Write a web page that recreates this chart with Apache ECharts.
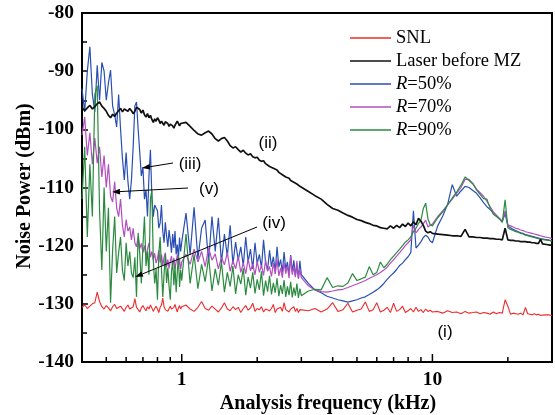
<!DOCTYPE html>
<html><head><meta charset="utf-8">
<script src="https://cdn.jsdelivr.net/npm/echarts@6/dist/echarts.min.js"></script>
<style>html,body{margin:0;padding:0;background:#fff}#c{width:555px;height:415px}</style>
</head><body><div id="c"></div>
<script>
// Analysis frequency (kHz)
const freq = [
 0.40,0.41,0.42,0.43,0.44,0.45,0.46,0.47,0.48,0.49,
 0.50,0.51,0.52,0.53,0.54,0.55,0.56,0.57,0.58,0.59,
 0.60,0.61,0.62,0.63,0.64,0.65,0.66,0.67,0.68,0.69,
 0.70,0.71,0.72,0.73,0.74,0.75,0.76,0.77,0.78,0.79,
 0.80,0.81,0.82,0.83,0.84,0.85,0.86,0.87,0.88,0.89,
 0.90,0.91,0.92,0.93,0.94,0.95,0.96,0.97,0.98,0.99,
 1.00,
 1.04,1.08,1.12,1.16,1.20,1.24,1.28,1.32,1.36,1.40,
 1.44,1.48,1.52,1.56,1.60,1.64,1.68,1.72,1.76,1.80,
 1.84,1.88,1.92,1.96,2.00,2.04,2.08,2.12,2.16,2.20,
 2.24,2.28,2.32,2.36,2.40,2.44,2.48,2.52,2.56,2.60,
 2.64,2.68,2.72,2.76,2.80,2.84,2.88,2.92,2.96,3.00,
 3.2,3.4,3.6,3.8,4.0,4.2,4.4,4.6,4.8,5.0,
 5.2,5.4,5.6,5.8,6.0,6.2,6.4,6.6,6.8,7.0,
 7.2,7.4,7.6,7.8,8.0,8.2,8.4,8.6,8.8,9.0,
 9.2,9.4,9.6,9.8,10.0,
 10.5,11,11.5,12,12.5,13,13.5,14,14.5,15,
 15.5,16,16.5,17,17.5,18,18.5,19,19.5,20,
 20.5,21,21.5,22,22.5,23,23.5,24,24.5,25,
 25.5,26,26.5,27,27.5,28,28.5,29,29.5,30
];
// SNL (dBm)
const snl = [
 -130.6,-130.2,-130.8,-130.4,-130.0,-129.8,-128.0,-129.6,-130.5,-130.9,
 -130.3,-130.7,-131.2,-130.5,-130.1,-130.8,-131.0,-130.4,-130.7,-131.3,
 -130.6,-130.2,-130.9,-131.1,-130.5,-129.1,-130.6,-130.9,-131.4,-130.7,
 -130.3,-130.8,-131.2,-130.5,-130.9,-130.2,-130.7,-131.3,-130.8,-130.4,
 -130.9,-131.5,-130.6,-130.2,-129.0,-130.5,-131.0,-130.7,-131.3,-130.8,
 -130.4,-130.9,-131.2,-130.6,-130.1,-130.8,-131.4,-130.7,-130.3,-130.9,
 -130.5,
 -130.2,-130.9,-131.3,-130.6,-129.6,-130.8,-131.1,-130.4,-130.9,-131.4,
 -130.7,-129.8,-130.9,-131.2,-130.5,-131.0,-130.6,-131.5,-130.8,-130.3,
 -131.1,-130.7,-129.9,-131.3,-130.8,-131.0,-130.5,-131.4,-130.9,-130.6,
 -131.2,-130.8,-130.1,-131.5,-130.9,-131.1,-130.6,-131.3,-129.8,-131.0,
 -130.7,-131.4,-130.9,-131.2,-130.5,-131.3,-130.8,-131.5,-131.0,-130.7,
 -131.2,-130.8,-131.4,-130.9,-129.8,-131.3,-131.0,-129.9,-131.4,-131.1,
 -130.9,-129.7,-131.3,-131.0,-129.8,-131.4,-131.1,-130.6,-131.5,-129.9,
 -131.3,-131.0,-130.4,-131.5,-131.2,-130.8,-131.4,-130.6,-131.3,-131.0,
 -131.5,-130.9,-131.3,-131.1,-131.4,
 -131.3,-131.6,-131.2,-131.5,-131.4,-131.7,-131.3,-131.6,-131.5,-131.4,
 -131.7,-131.5,-131.6,-131.8,-131.4,-131.7,-131.5,-131.6,-129.3,-130.4,
 -131.8,-131.6,-131.7,-131.8,-131.6,-131.9,-130.6,-131.7,-131.8,-131.9,
 -131.7,-131.9,-131.8,-132.0,-131.8,-131.9,-132.0,-131.9,-132.0,-132.0
];
// Laser before MZ (dBm)
const laser = [
 -96.2,-96.8,-96.3,-95.9,-96.5,-96.1,-95.6,-95.3,-96.0,-96.4,
 -96.9,-97.6,-98.0,-97.4,-97.8,-97.2,-96.8,-96.4,-97.0,-96.5,
 -96.2,-96.9,-96.4,-96.8,-97.3,-96.9,-96.2,-95.9,-96.6,-97.2,
 -96.7,-97.5,-97.9,-97.3,-98.0,-97.6,-98.3,-98.8,-98.2,-98.6,
 -98.0,-98.4,-99.0,-98.6,-98.9,-99.3,-98.7,-98.4,-99.0,-99.5,
 -99.1,-98.8,-99.4,-99.8,-99.3,-99.0,-98.6,-98.9,-99.4,-99.0,
 -99.3,
 -98.8,-99.5,-100.2,-100.8,-101.0,-100.6,-100.3,-100.8,-101.6,-102.0,
 -101.6,-101.4,-102.0,-102.8,-103.2,-103.0,-103.5,-103.9,-103.6,-104.1,
 -104.4,-104.2,-104.7,-104.9,-104.8,-105.3,-105.5,-105.4,-105.9,-106.0,
 -106.4,-106.3,-106.7,-107.0,-107.0,-107.4,-107.5,-107.8,-107.9,-108.2,
 -108.3,-108.4,-108.8,-108.9,-109.1,-109.3,-109.4,-109.7,-109.8,-110.0,
 -110.7,-111.4,-112.0,-112.9,-113.6,-113.9,-114.4,-114.8,-115.1,-115.5,
 -115.7,-116.0,-116.2,-116.5,-116.6,-116.9,-117.0,-117.1,-116.6,-117.0,
 -116.5,-116.9,-116.3,-116.7,-116.1,-116.6,-115.9,-116.4,-115.3,-115.8,
 -116.5,-117.5,-117.8,-117.6,-117.9,
 -118.0,-118.1,-118.2,-118.3,-118.3,-118.4,-117.2,-118.5,-118.5,-118.6,
 -118.6,-118.7,-118.7,-118.8,-118.8,-118.9,-118.9,-119.0,-117.0,-119.0,
 -119.1,-119.1,-119.2,-119.2,-119.3,-119.3,-119.3,-119.4,-119.4,-119.5,
 -119.5,-119.6,-119.6,-118.9,-119.7,-119.7,-119.8,-119.8,-119.9,-119.9
];
// R=50% (dBm)
const r50 = [
 -93.0,-97.0,-90.0,-85.8,-94.0,-97.0,-89.0,-95.0,-88.5,-90.0,
 -95.0,-92.0,-89.8,-96.0,-97.5,-99.6,-94.0,-100.0,-105.0,-108.7,
 -104.0,-109.0,-112.0,-108.7,-103.0,-96.0,-95.3,-100.0,-104.0,-108.0,
 -106.5,-112.0,-110.4,-115.0,-108.0,-103.5,-111.6,-115.0,-113.0,-112.7,
 -114.0,-117.0,-116.1,-113.0,-117.5,-119.5,-116.0,-118.3,-120.2,-117.3,
 -119.0,-121.2,-118.0,-120.4,-117.5,-121.5,-119.8,-122.3,-118.6,-121.0,
 -119.4,
 -114.4,-121.5,-113.4,-122.3,-117.0,-115.6,-122.8,-115.0,-121.0,-115.2,
 -123.0,-118.0,-121.8,-116.5,-123.2,-119.4,-122.5,-120.2,-123.5,-118.5,
 -122.8,-120.6,-124.0,-119.5,-123.1,-121.5,-123.8,-119.0,-122.9,-124.2,
 -120.8,-123.6,-121.9,-124.4,-120.2,-123.7,-122.4,-124.6,-121.1,-124.1,
 -122.8,-125.0,-121.6,-124.5,-122.5,-125.2,-123.3,-125.6,-122.6,-125.0,
 -126.5,-127.6,-128.1,-128.7,-129.0,-129.3,-129.5,-129.7,-129.5,-129.3,
 -129.0,-128.8,-128.4,-128.0,-127.6,-127.1,-126.5,-125.8,-125.2,-124.7,
 -124.1,-123.4,-123.0,-122.4,-121.9,-121.2,-114.0,-120.4,-119.9,-119.3,
 -118.6,-118.2,-118.5,-119.2,-119.5,
 -116.6,-114.9,-112.9,-109.5,-111.5,-110.6,-109.8,-110.0,-110.5,-111.0,
 -111.8,-112.6,-113.3,-113.8,-114.3,-114.8,-115.3,-115.8,-114.5,-116.6,
 -116.9,-117.2,-117.4,-117.6,-117.8,-117.9,-118.1,-118.2,-118.3,-118.4,
 -118.5,-118.6,-118.7,-118.8,-118.8,-118.9,-119.0,-119.0,-119.1,-119.2
];
// R=70% (dBm)
const r70 = [
 -101.0,-97.9,-104.5,-100.6,-106.0,-101.5,-105.8,-103.0,-108.2,-104.5,
 -110.0,-106.0,-111.5,-112.5,-109.0,-113.5,-115.0,-112.0,-116.5,-118.5,
 -115.5,-117.5,-116.8,-119.0,-117.0,-119.5,-120.2,-118.4,-120.5,-119.6,
 -121.2,-120.0,-121.9,-120.7,-119.5,-122.0,-121.0,-122.5,-121.3,-123.0,
 -122.2,-120.8,-122.9,-121.5,-123.4,-122.0,-121.2,-123.7,-122.4,-123.9,
 -122.6,-121.8,-123.5,-122.1,-124.0,-122.7,-121.6,-123.6,-122.3,-124.1,
 -122.8,
 -121.5,-123.2,-120.6,-122.8,-121.0,-123.6,-120.4,-122.5,-121.4,-124.0,
 -122.0,-123.3,-121.2,-124.4,-122.6,-124.0,-121.8,-124.6,-123.0,-124.8,
 -122.3,-124.3,-123.2,-125.0,-122.7,-124.6,-123.4,-125.1,-122.5,-124.4,
 -123.6,-125.3,-123.0,-124.9,-122.4,-125.2,-123.8,-125.5,-122.9,-124.8,
 -123.5,-125.6,-121.8,-125.0,-123.7,-125.4,-122.6,-125.7,-124.1,-125.5,
 -126.9,-127.6,-127.9,-128.0,-127.8,-127.6,-127.5,-127.2,-126.9,-126.6,
 -126.3,-126.0,-125.6,-125.3,-125.0,-124.6,-124.2,-123.7,-123.0,-122.4,
 -121.8,-121.2,-120.6,-120.0,-119.5,-119.0,-116.5,-117.8,-117.2,-116.8,
 -116.2,-115.6,-116.8,-116.5,-116.3,
 -115.0,-114.0,-113.0,-112.0,-111.0,-110.0,-108.6,-108.6,-109.3,-110.3,
 -110.9,-111.5,-112.4,-113.3,-114.2,-114.8,-115.3,-115.9,-114.0,-116.4,
 -116.6,-116.8,-117.0,-117.1,-117.3,-117.4,-117.6,-117.7,-117.8,-117.9,
 -118.0,-118.1,-118.2,-118.3,-118.4,-118.5,-118.6,-118.6,-118.7,-118.8
];
// R=90% (dBm)
const r90 = [
 -112.0,-103.0,-118.5,-106.0,-115.0,-94.0,-92.5,-113.9,-124.2,-110.0,
 -121.0,-113.5,-129.8,-120.7,-115.0,-124.7,-121.2,-118.5,-124.2,-126.0,
 -119.5,-123.5,-121.0,-124.7,-125.5,-122.0,-128.8,-117.8,-121.5,-126.5,
 -120.0,-115.0,-123.5,-121.0,-125.0,-112.0,-110.5,-122.5,-126.5,-124.0,
 -129.3,-121.5,-118.5,-124.0,-128.8,-125.0,-121.5,-126.4,-123.8,-127.0,
 -129.3,-124.5,-122.6,-126.8,-123.4,-128.0,-124.6,-121.8,-127.1,-124.2,
 -126.0,
 -118.0,-126.5,-121.5,-127.4,-123.2,-126.2,-122.0,-127.8,-124.0,-126.8,
 -122.8,-128.0,-124.6,-127.0,-123.5,-128.3,-125.0,-126.6,-123.9,-128.5,
 -125.4,-127.3,-124.6,-128.2,-125.8,-127.6,-124.4,-128.6,-126.0,-127.9,
 -125.2,-128.4,-126.4,-128.1,-125.6,-128.7,-126.8,-128.3,-125.9,-128.8,
 -127.0,-128.5,-126.2,-128.9,-127.2,-128.6,-126.5,-129.0,-127.4,-128.6,
 -127.8,-127.5,-127.6,-125.5,-127.2,-126.9,-127.0,-126.4,-124.8,-126.0,
 -125.7,-125.4,-123.6,-125.0,-124.6,-122.8,-123.8,-123.2,-122.4,-121.8,
 -121.2,-120.6,-120.0,-119.4,-119.0,-118.5,-117.6,-117.0,-116.2,-115.6,
 -113.6,-112.7,-115.4,-116.4,-116.6,
 -115.2,-114.2,-113.0,-111.8,-110.8,-109.6,-108.2,-108.8,-109.4,-110.4,
 -111.2,-111.9,-112.0,-113.6,-114.6,-115.0,-115.4,-116.0,-112.1,-116.9,
 -117.2,-117.4,-117.6,-117.7,-117.9,-118.0,-118.2,-118.3,-118.4,-118.5,
 -118.6,-118.7,-118.8,-118.9,-118.9,-119.0,-119.1,-119.1,-119.2,-119.2
];
const seriesNames = ['SNL', 'Laser before MZ', 'R=50%', 'R=70%', 'R=90%'];
const xMajorTicks = [1, 10];
const xMinorTicks = [0.5, 0.6, 0.7, 0.8, 0.9, 2, 3, 4, 5, 6, 7, 8, 9, 20, 30];

const colors = { 'SNL': '#ee2a2a', 'Laser before MZ': '#111111', 'R=50%': '#2a4fb3', 'R=70%': '#b24fc0', 'R=90%': '#2b8a3f' };

function pairs(arr) { const out = []; for (let i = 0; i < freq.length && i < arr.length; i++) out.push([freq[i], arr[i]]); return out; }
function lineSeries(name, arr, w) {
  return { name, type: 'line', data: pairs(arr), showSymbol: false, symbol: 'none', sampling: false,
    lineStyle: { color: colors[name], width: w }, itemStyle: { color: colors[name] }, animation: false, silent: true };
}
const bad = [snl, laser, r50, r70, r90].map(a => a.length).filter(n => n !== freq.length);

function arrow(x1, y1, x2, y2) {
  const dx = x2 - x1, dy = y2 - y1, L = Math.hypot(dx, dy), ux = dx / L, uy = dy / L;
  const hl = 8, hw = 2.8, bx = x2 - ux * hl, by = y2 - uy * hl;
  return [
    { type: 'line', z: 100, shape: { x1, y1, x2: bx, y2: by }, style: { stroke: '#000', lineWidth: 1 } },
    { type: 'polygon', z: 100, shape: { points: [[x2, y2], [bx - uy * hw, by + ux * hw], [bx + uy * hw, by - ux * hw]] }, style: { fill: '#000' } }
  ];
}
function label(t, x, y) {
  return { type: 'text', z: 100, x, y, style: { text: t, font: '17px "Liberation Sans"', fill: '#000', textAlign: 'center', textVerticalAlign: 'middle' } };
}

const chart = echarts.init(document.getElementById('c'), null, { renderer: 'canvas' });
const serif = '"Liberation Serif", "Times New Roman", serif';
chart.setOption({
  animation: false,
  backgroundColor: '#fff',
  grid: { left: 82, top: 13, right: 2, bottom: 53, show: true, borderColor: '#000', borderWidth: 2 },
  legend: {
    orient: 'vertical', left: 350, top: 28, padding: 0, itemWidth: 41, itemHeight: 1.5, itemGap: 3, icon: 'rect',
    selectedMode: false, data: seriesNames,
    formatter: n => n.startsWith('R=') ? '{i|R}' + n.slice(1) : n,
    textStyle: { fontFamily: serif, fontSize: 18.5, color: '#000', lineHeight: 20,
      rich: { i: { fontFamily: serif, fontStyle: 'italic', fontSize: 18.5, lineHeight: 20, color: '#000' } } }
  },
  xAxis: {
    type: 'log', logBase: 10, min: 0.4, max: 30,
    axisLine: { show: true, lineStyle: { color: '#000', width: 2 } },
    axisTick: { show: false }, splitLine: { show: false },
    axisLabel: { color: '#000', fontFamily: serif, fontWeight: 'bold', fontSize: 19.5, margin: 8,
      formatter: v => Math.abs(v - 1) < 1e-6 ? '1' : (Math.abs(v - 10) < 1e-6 ? '10' : '') }
  },
  yAxis: {
    type: 'value', min: -140, max: -80, interval: 10,
    axisLine: { show: true, lineStyle: { color: '#000', width: 2 } },
    axisTick: { show: true, inside: true, length: 6, lineStyle: { color: '#000', width: 1.5 } },
    minorTick: { show: true, splitNumber: 2, length: 5, lineStyle: { color: '#000', width: 1.5 } },
    splitLine: { show: false }, minorSplitLine: { show: false },
    axisLabel: { color: '#000', fontFamily: serif, fontWeight: 'bold', fontSize: 19.5, margin: 8 }
  },
  series: [
    lineSeries('R=50%', r50, 1.2),
    lineSeries('R=70%', r70, 1.2),
    lineSeries('R=90%', r90, 1.2),
    lineSeries('SNL', snl, 1.1),
    lineSeries('Laser before MZ', laser, 1.7),
    {
      type: 'custom', silent: true, animation: false, z: 10, clip: false,
      data: xMajorTicks.map(f => [f, 1]).concat(xMinorTicks.map(f => [f, 0])),
      renderItem: (params, api) => {
        const p = api.coord([api.value(0), -140]);
        const len = api.value(1) ? 8 : 5;
        return { type: 'line', shape: { x1: p[0], y1: p[1], x2: p[0], y2: p[1] - len }, style: { stroke: '#000', lineWidth: 1.5 } };
      }
    }
  ],
  graphic: [
    { type: 'text', z: 100, x: 25, y: 186, rotation: Math.PI / 2,
      style: { text: 'Noise Power (dBm)', font: 'bold 20px ' + serif, fill: '#000', textAlign: 'center', textVerticalAlign: 'middle' } },
    { type: 'text', z: 100, x: 328, y: 404,
      style: { text: 'Analysis frequency (kHz)', font: 'bold 20px ' + serif, fill: '#000', textAlign: 'center', textVerticalAlign: 'middle' } },
    label('(ii)', 268, 143),
    label('(iii)', 190, 164),
    label('(v)', 209, 189),
    label('(iv)', 274, 223),
    label('(i)', 445, 332),
    ...arrow(173, 163, 142, 168),
    ...arrow(188, 188, 112, 192),
    ...arrow(257, 227, 135, 277),
    ...(bad.length ? [{ type: 'text', x: 100, y: 380, style: { text: 'LEN MISMATCH ' + bad.join(','), fill: 'red', font: '14px sans-serif' } }] : [])
  ]
});
</script>
</body></html>
